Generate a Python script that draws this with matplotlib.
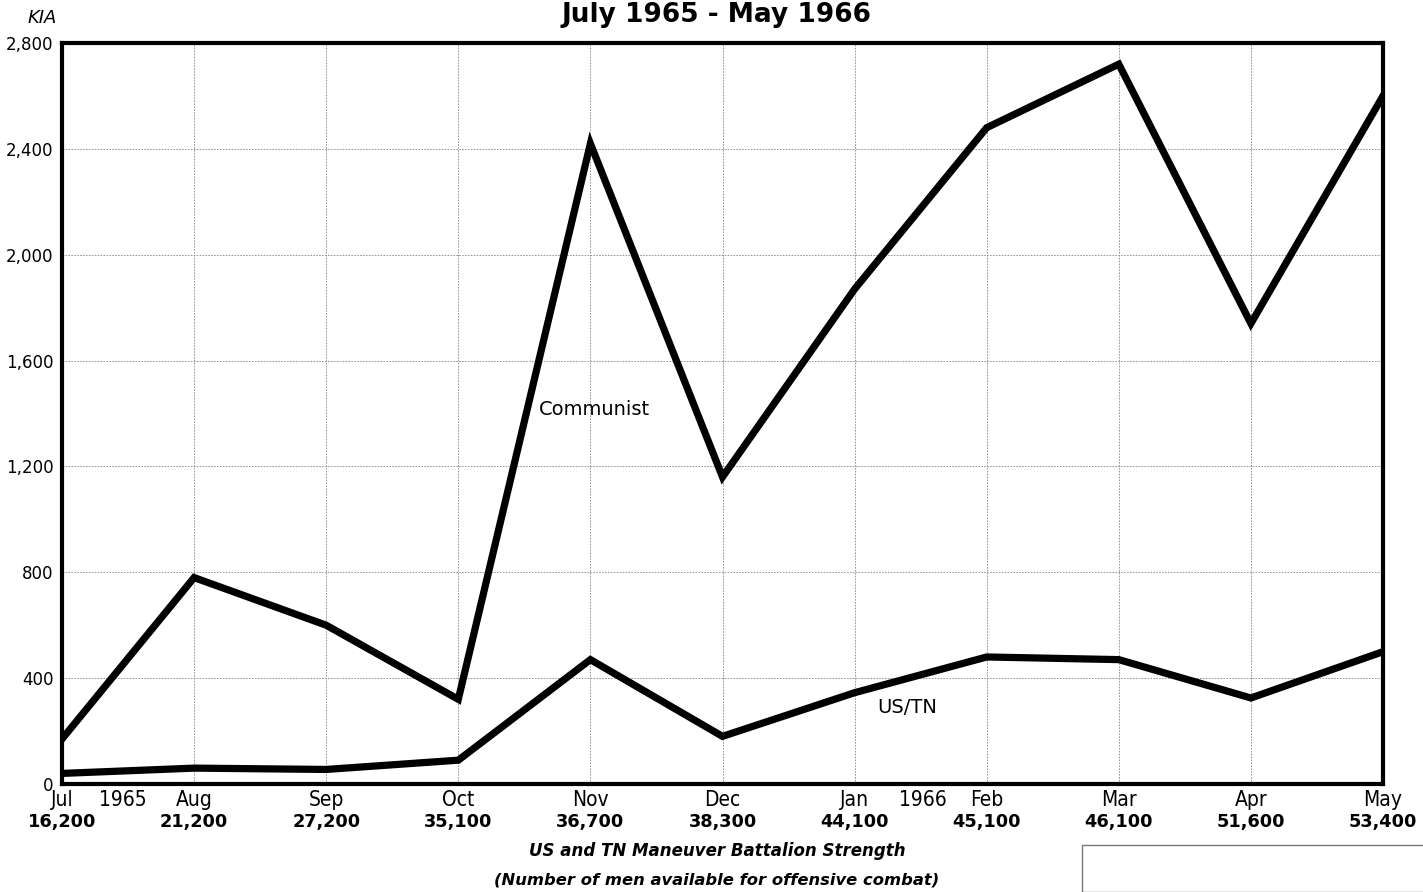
import matplotlib.pyplot as plt
from matplotlib.patches import Rectangle
from matplotlib import font_manager

# monthly KIA, Jul 1965 - May 1966
months = ["Jul", "Aug", "Sep", "Oct", "Nov", "Dec", "Jan", "Feb", "Mar", "Apr", "May"]
strength = ["16,200", "21,200", "27,200", "35,100", "36,700", "38,300",
            "44,100", "45,100", "46,100", "51,600", "53,400"]
communist = [170, 780, 600, 320, 2420, 1160, 1870, 2480, 2720, 1740, 2600]
us_tn = [40, 60, 55, 90, 470, 180, 345, 480, 470, 325, 500]
y_ticks = [0, 400, 800, 1200, 1600, 2000, 2400, 2800]

futura = "DejaVu Sans"
# condensed face for the month names
narrow = font_manager.FontProperties(family="DejaVu Sans", stretch="condensed", size=15)

fig = plt.figure(figsize=(14.23, 8.92), dpi=100)
ax = fig.add_axes([62 / 1423, (892 - 784) / 892, (1383 - 62) / 1423, (784 - 43) / 892])

x = list(range(len(months)))
ax.plot(x, communist, color="black", lw=5.2, solid_joinstyle="miter")
ax.plot(x, us_tn, color="black", lw=5.2, solid_joinstyle="miter")

ax.set_xlim(0, len(months) - 1)
ax.set_ylim(0, 2800)
ax.set_yticks(y_ticks)
ax.set_yticklabels([f"{v:,}" for v in y_ticks], fontsize=12, family=futura)
ax.set_xticks(x)
ax.set_xticklabels([])
ax.tick_params(axis="both", length=0, pad=6)

ax.grid(True, color="#888888", lw=0.6, ls=(0, (2, 1.5)))
for s in ax.spines.values():
    s.set_linewidth(3)
    s.set_color("black")

# two-line month / strength labels under the axis
for i, (m, n) in enumerate(zip(months, strength)):
    ax.annotate(m, (i, 0), xytext=(0, -4), textcoords="offset points",
                ha="center", va="top", fontproperties=narrow)
    ax.annotate(n, (i, 0), xytext=(0, -21), textcoords="offset points",
                ha="center", va="top", fontsize=12.8, family=futura, weight="bold")
ax.annotate("1965", (0.46, 0), xytext=(0, -4), textcoords="offset points",
            ha="center", va="top", fontproperties=narrow)
ax.annotate("1966", (6.52, 0), xytext=(0, -4), textcoords="offset points",
            ha="center", va="top", fontproperties=narrow)

ax.text(4.03, 1415, "Communist", ha="center", va="center", fontsize=14, family=futura)
ax.text(6.4, 290, "US/TN", ha="center", va="center", fontsize=14, family=futura)

fig.text(717 / 1423, 1 - 15 / 892, "July 1965 - May 1966", ha="center", va="center",
         fontsize=19, weight="bold", family=futura)
fig.text(28 / 1423, 1 - 18 / 892, "KIA", ha="left", va="center",
         fontsize=13, style="italic", family=futura)
fig.text(717 / 1423, 1 - 851 / 892, "US and TN Maneuver Battalion Strength",
         ha="center", va="center", fontsize=12, style="italic", weight="bold", family=futura)
fig.text(717 / 1423, 1 - 880 / 892, "(Number of men available for offensive combat)",
         ha="center", va="center", fontsize=11.8, style="italic", weight="bold", family=futura)

fig.patches.append(Rectangle((1082 / 1423, 0), 0.5, (892 - 845) / 892,
                             transform=fig.transFigure, fill=False,
                             edgecolor="#777777", lw=1))

fig.savefig("out.png", dpi=100)
